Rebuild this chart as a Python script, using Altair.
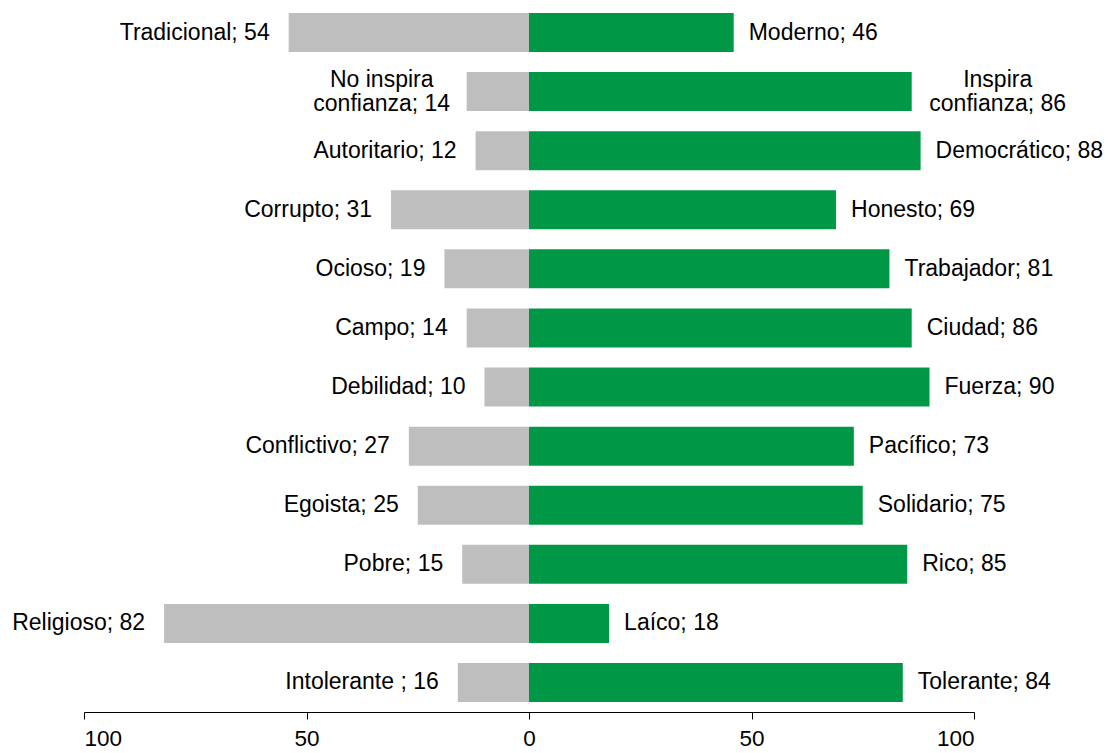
import altair as alt
import pandas as pd

left_labels = ["Tradicional", "No inspira\nconfianza", "Autoritario", "Corrupto", "Ocioso",
               "Campo", "Debilidad", "Conflictivo", "Egoista", "Pobre", "Religioso", "Intolerante "]
left_values = [54, 14, 12, 31, 19, 14, 10, 27, 25, 15, 82, 16]
right_labels = ["Moderno", "Inspira\nconfianza", "Democrático", "Honesto", "Trabajador",
                "Ciudad", "Fuerza", "Pacífico", "Solidario", "Rico", "Laíco", "Tolerante"]
right_values = [46, 86, 88, 69, 81, 86, 90, 73, 75, 85, 18, 84]
tick_values = [-100, -50, 0, 50, 100]

rows = []
for i, (lab, v) in enumerate(zip(left_labels, left_values)):
    rows.append({"row": i, "side": "left", "start": -v, "end": 0, "pos": -v,
                 "text": f"{lab}; {v}", "multi": "\n" in lab})
for i, (lab, v) in enumerate(zip(right_labels, right_values)):
    rows.append({"row": i, "side": "right", "start": 0, "end": v, "pos": v,
                 "text": f"{lab}; {v}", "multi": "\n" in lab})
df = pd.DataFrame(rows)

FONT = "Liberation Sans"
FS = 23

xscale = alt.Scale(domain=[-100, 100], nice=False, zero=False)
yenc = alt.Y("row:O", axis=None, scale=alt.Scale(paddingInner=0.34, paddingOuter=0.085))
xaxis = alt.Axis(values=tick_values, labelExpr="abs(datum.value)", title=None, grid=False,
                 offset=5, tickSize=7, labelPadding=8, labelFontSize=22.5, labelFont=FONT,
                 domainColor="#000000", tickColor="#000000", labelColor="#000000",
                 tickWidth=1, domainWidth=1)

base = alt.Chart(df)

bars = base.mark_bar().encode(
    x=alt.X("start:Q", scale=xscale, axis=xaxis),
    x2="end:Q",
    y=yenc,
    color=alt.Color("side:N", scale=alt.Scale(domain=["left", "right"],
                                              range=["#BEBEBE", "#009846"]), legend=None),
)

def text_layer(side, multi, align, dx, dy=0):
    return base.transform_filter(
        f"datum.side == '{side}' && datum.multi == {'true' if multi else 'false'}"
    ).mark_text(align=align, baseline="middle", dx=dx, dy=dy, font=FONT, fontSize=FS,
                color="#000000", lineBreak="\n", lineHeight=24).encode(
        x=alt.X("pos:Q", scale=xscale, title=None),
        y=yenc,
        text="text:N",
    )

chart = alt.layer(
    bars,
    text_layer("left", False, "right", -19),
    text_layer("left", True, "center", -85, -12),
    text_layer("right", False, "left", 15),
    text_layer("right", True, "center", 86, -12),
).properties(
    width=890, height=699,
    autosize="none",
    padding={"left": 76, "top": 0, "right": 129, "bottom": 46},
).configure_view(stroke=None)

chart.save("out.html", embed_options={"renderer": "svg", "actions": False})
